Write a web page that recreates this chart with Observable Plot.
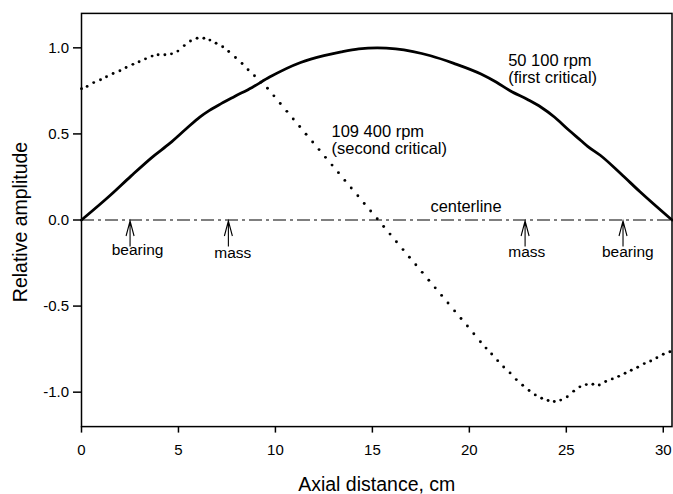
<!DOCTYPE html>
<html>
<head>
<meta charset="utf-8">
<script src="https://cdn.jsdelivr.net/npm/d3@7"></script>
<script src="https://cdn.jsdelivr.net/npm/@observablehq/plot@0.6"></script>
<style>
  html, body { margin: 0; padding: 0; background: #fff; }
  #chart svg { display: block; }
</style>
</head>
<body>
<div id="chart"></div>
<script>
// ---- data ----
const xTicks = [0, 5, 10, 15, 20, 25, 30];
const yTicks = [-1, -0.5, 0, 0.5, 1];

// first critical mode shape (50 100 rpm), solid line
const firstX = [0, 1.5, 2.55, 3.7, 4.55, 5.4, 6.1, 6.6, 7.2, 7.85, 8.8, 9.7, 11.3, 12.5, 13.4, 14.3, 15.25,
                16.2, 17.1, 18.0, 19.2, 20.6, 21.4, 22.1, 23.0, 23.7, 24.4, 25.05, 25.75, 26.1, 26.75, 27.8, 28.8, 30.45];
const firstY = [0, 0.145, 0.255, 0.37, 0.445, 0.53, 0.598, 0.637, 0.676, 0.715, 0.77, 0.83, 0.915, 0.955, 0.977, 0.994, 1.0,
                0.994, 0.978, 0.954, 0.91, 0.848, 0.80, 0.751, 0.70, 0.655, 0.597, 0.53, 0.462, 0.428, 0.376, 0.27, 0.164, 0];

// second critical mode shape (109 400 rpm), individual plotted points
const secondX = [0, 0.29, 0.63, 0.98, 1.29, 1.63, 1.98, 2.3, 2.65, 2.97, 3.3, 3.64, 3.95, 4.3, 4.64, 4.97, 5.3, 5.62,
                 5.96, 6.31, 6.62, 6.94, 7.28, 7.59, 7.94, 8.28, 8.59, 8.92,
                 9.25, 9.59, 9.92, 10.25, 10.59, 10.92, 11.25, 11.58, 11.92, 12.25, 12.58, 12.92, 13.25, 13.58, 13.91,
                 14.25, 14.58, 14.91, 15.25, 15.58, 15.91, 16.24, 16.58, 16.91, 17.24, 17.57, 17.91, 18.24, 18.57, 18.9,
                 19.24, 19.57, 19.9, 20.23,
                 20.57, 20.86, 21.15, 21.46, 21.77, 22.1, 22.42, 22.75, 23.08, 23.4, 23.73, 24.06, 24.38, 24.71, 25.05,
                 25.38, 25.7, 26.03, 26.37, 26.7, 27.03, 27.37, 27.7, 28.03, 28.35, 28.68, 29.02, 29.35, 29.67, 30.0, 30.34];
const secondY = [0.762, 0.776, 0.798, 0.815, 0.832, 0.851, 0.867, 0.886, 0.904, 0.919, 0.936, 0.952, 0.96, 0.96, 0.965, 0.981, 1.013, 1.04,
                 1.056, 1.056, 1.045, 1.027, 1.006, 0.979, 0.944, 0.909, 0.873, 0.838,
                 0.80, 0.765, 0.721, 0.677, 0.631, 0.587, 0.543, 0.498, 0.453, 0.409, 0.364, 0.319, 0.275, 0.230, 0.186,
                 0.141, 0.096, 0.052, 0.007, -0.038, -0.082, -0.126, -0.172, -0.216, -0.260, -0.304, -0.350, -0.394, -0.438, -0.482,
                 -0.528, -0.572, -0.616, -0.661,
                 -0.707, -0.744, -0.778, -0.817, -0.854, -0.888, -0.927, -0.96, -0.99, -1.016, -1.035, -1.048, -1.054, -1.046, -1.027,
                 -0.994, -0.969, -0.956, -0.954, -0.958, -0.938, -0.923, -0.908, -0.89, -0.873, -0.855, -0.834, -0.819, -0.8, -0.78, -0.765];

// bearing / mass locations
const markerX = [2.53, 7.6, 22.9, 27.95];
const markerText = ["bearing", "mass", "mass", "bearing"];
const markerLabelX = [2.89, 7.8, 22.96, 28.17];
const markerLabelY = [-0.206, -0.221, -0.216, -0.215];

// curve annotations
const noteText = ["50 100 rpm", "(first critical)", "109 400 rpm", "(second critical)"];
const noteX = [22.0, 22.0, 12.89, 12.89];
const noteY = [0.897, 0.794, 0.481, 0.384];

// ---- build tables ----
const first = firstX.map((x, i) => ({x, y: firstY[i]}));
const second = secondX.map((x, i) => ({x, y: secondY[i]}));
const markerLabels = markerText.map((t, i) => ({text: t, x: markerLabelX[i], y: markerLabelY[i]}));
const notes = noteText.map((t, i) => ({text: t, x: noteX[i], y: noteY[i]}));

function arrowMarks(index, scales) {
  const g = d3.create("svg:g")
    .attr("fill", "none")
    .attr("stroke", "black")
    .attr("stroke-width", 1.1);
  const y0 = scales.y(0);
  for (const a of markerX) {
    const x = scales.x(a);
    g.append("path").attr("d",
      `M${x - 4},${y0 + 16.5}L${x},${y0 + 1.5}L${x + 4},${y0 + 16.5}M${x},${y0 + 1.5}V${y0 + 27}`);
  }
  return g.node();
}

const font = "'Liberation Sans', Arial, Helvetica, sans-serif";

const chart = Plot.plot({
  width: 673,
  height: 494,
  marginLeft: 81,
  marginRight: 1.5,
  marginTop: 12.9,
  marginBottom: 67.9,
  style: {fontFamily: font, fontSize: "15px", color: "black", background: "white"},
  x: {domain: [0, 30.45]},
  y: {domain: [-1.2, 1.2]},
  marks: [
    Plot.ruleY([0], {stroke: "black", strokeWidth: 1.2, strokeDasharray: "13,4,3,4"}),
    Plot.dot(second, {x: "x", y: "y", r: 1.45, fill: "black", stroke: null}),
    Plot.line(first, {x: "x", y: "y", stroke: "black", strokeWidth: 2.8, curve: "monotone-x"}),
    arrowMarks,
    Plot.text(markerLabels, {x: "x", y: "y", text: "text", textAnchor: "middle", lineAnchor: "bottom",
      fontSize: 15.5, fill: "black"}),
    Plot.text(notes, {x: "x", y: "y", text: "text", textAnchor: "start", lineAnchor: "bottom",
      fontSize: 16.5, fill: "black"}),
    Plot.text(["centerline"], {x: 19.83, y: 0.045, textAnchor: "middle", lineAnchor: "bottom",
      fontSize: 16.4, fill: "black"}),
    Plot.frame({stroke: "black", strokeWidth: 1.5}),
    Plot.axisX({ticks: xTicks, tickSize: 6.5, tickPadding: 11.5, strokeWidth: 1.5,
      tickFormat: d => String(d), fontSize: 15, label: null}),
    Plot.axisY({ticks: yTicks, tickSize: 8, tickPadding: 4.5, strokeWidth: 1.5,
      tickFormat: d => d.toFixed(1), fontSize: 15, label: null}),
    Plot.text(["Axial distance, cm"], {frameAnchor: "bottom", dy: 63.9, lineAnchor: "bottom",
      fontSize: 19.5, fill: "black"}),
    Plot.text(["Relative amplitude"], {frameAnchor: "left", rotate: -90, dx: -55, dy: 2,
      lineAnchor: "bottom", textAnchor: "middle", fontSize: 19.5, fill: "black"})
  ]
});

document.getElementById("chart").appendChild(chart);
</script>
</body>
</html>
